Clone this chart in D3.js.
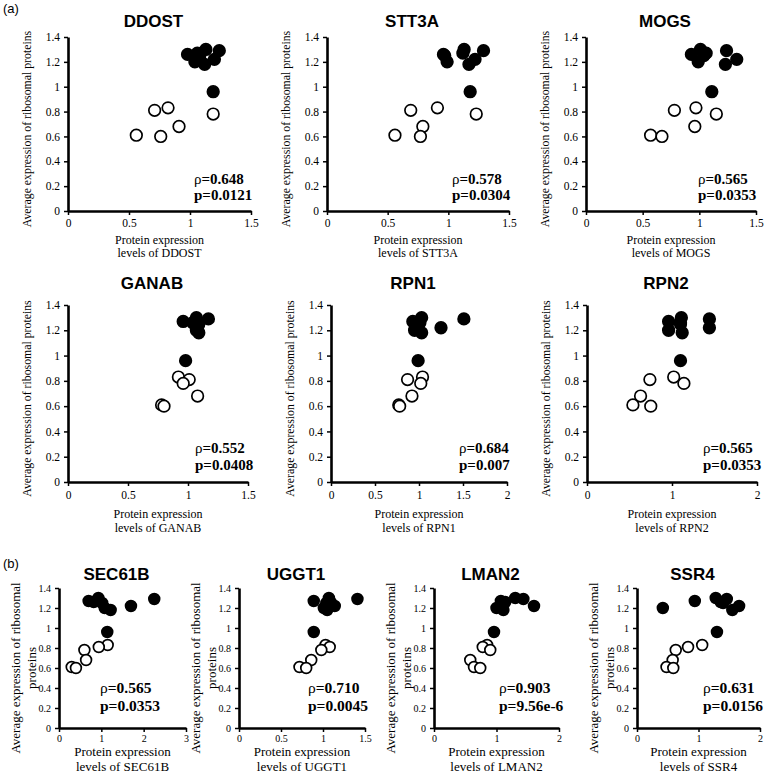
<!DOCTYPE html>
<html><head><meta charset="utf-8">
<script src="https://cdn.jsdelivr.net/npm/d3@7"></script>
<style>body{margin:0;background:#fff}svg{display:block}
.serif{font-family:"Liberation Serif","Times New Roman",Times,"Nimbus Roman","DejaVu Serif",serif}
.sans{font-family:"Liberation Sans",Arial,Helvetica,sans-serif}
</style>
</head><body><svg id="c" width="765" height="773"></svg>
<script>
// Average expression of ribosomal proteins per sample (shared y values)
const riboY = [1.30, 1.29, 1.27, 1.26, 1.25, 1.22, 1.20, 1.18, 0.96, 0.83, 0.81, 0.78, 0.68, 0.61, 0.60];
// 1 = filled (high ribosomal expression), 0 = open
const highGroup = [1, 1, 1, 1, 1, 1, 1, 1, 1, 0, 0, 0, 0, 0, 0];

const genes = ["DDOST", "STT3A", "MOGS", "GANAB", "RPN1", "RPN2", "SEC61B", "UGGT1", "LMAN2", "SSR4"];
const rhoLabels = ["0.648", "0.578", "0.565", "0.552", "0.684", "0.565", "0.565", "0.710", "0.903", "0.631"];
const pLabels = ["0.0121", "0.0304", "0.0353", "0.0408", "0.007", "0.0353", "0.0353", "0.0045", "9.56e-6", "0.0156"];
const xDomainMax = [1.5, 1.5, 1.5, 1.5, 2, 2, 3, 1.5, 2, 2];
const xTickValues = [
  [0, 0.5, 1, 1.5], [0, 0.5, 1, 1.5], [0, 0.5, 1, 1.5], [0, 0.5, 1, 1.5],
  [0, 0.5, 1, 1.5, 2], [0, 1, 2], [0, 1, 2, 3], [0, 0.5, 1, 1.5], [0, 1, 2], [0, 1, 2]
];
const yTickValues = [0, 0.2, 0.4, 0.6, 0.8, 1, 1.2, 1.4];

// Protein expression levels (x) per gene, same sample order as riboY
const ddostX  = [1.13, 1.24, 1.06, 0.98, 1.08, 1.20, 1.04, 1.12, 1.19, 0.82, 0.71, 1.19, 0.91, 0.56, 0.76];
const stt3aX  = [1.13, 1.29, 1.12, 0.96, 0.97, 1.22, 0.99, 1.17, 1.18, 0.91, 0.69, 1.23, 0.79, 0.56, 0.77];
const mogsX   = [1.01, 1.24, 1.06, 0.93, 1.04, 1.33, 0.99, 1.23, 1.11, 0.97, 0.78, 1.15, 0.96, 0.57, 0.67];
const ganabX  = [1.07, 1.17, 0.96, 1.04, 1.09, 1.08, 1.07, 1.09, 0.98, 0.92, 1.01, 0.96, 1.08, 0.78, 0.80];
const rpn1X   = [1.03, 1.51, 0.93, 1.01, 0.97, 1.25, 0.95, 1.03, 0.99, 1.04, 0.87, 1.02, 0.92, 0.77, 0.78];
const rpn2X   = [1.11, 1.44, 0.96, 1.10, 1.10, 1.44, 0.96, 1.12, 1.10, 1.02, 0.74, 1.14, 0.63, 0.54, 0.75];
const sec61bX = [0.93, 2.25, 0.70, 0.82, 1.02, 1.70, 1.08, 1.22, 1.14, 1.15, 0.94, 0.60, 0.64, 0.30, 0.40];
const uggt1X  = [1.07, 1.41, 0.89, 1.09, 1.04, 1.14, 1.01, 1.05, 0.89, 1.03, 1.08, 0.98, 0.86, 0.72, 0.80];
const lman2X  = [1.30, 1.43, 1.07, 1.14, 1.08, 1.60, 1.00, 1.11, 0.96, 0.85, 0.78, 0.90, 0.58, 0.64, 0.74];
const ssr4X   = [1.28, 1.46, 0.94, 1.36, 1.40, 1.66, 0.42, 1.55, 1.30, 1.06, 0.83, 0.63, 0.58, 0.48, 0.59];
const geneX = [ddostX, stt3aX, mogsX, ganabX, rpn1X, rpn2X, sec61bX, uggt1X, lman2X, ssr4X];

// ---------- layout (pixel positions) ----------
const rows = [
  {top: 37, bottom: 211, titleY: 27, tickFont: 11.5, labFont: 12, yLabFont: 11.8, r: 5.8, rhoDy: -27, pDy: -11, annFont: 15, xl1: 243.5, lh: 13.5, pad: 4},
  {top: 305, bottom: 482, titleY: 289, tickFont: 11.5, labFont: 12, yLabFont: 11.8, r: 5.8, rhoDy: -29, pDy: -12, annFont: 15, xl1: 518, lh: 14, pad: 5},
  {top: 588, bottom: 728, titleY: 580, tickFont: 10, labFont: 13, yLabFont: 13, r: 5.4, rhoDy: -35, pDy: -17, annFont: 15.5, xl1: 756, lh: 14.5, pad: 3}
];
const panels = [
  {row: 0, left: 68, right: 251, annX: 194},
  {row: 0, left: 327, right: 509, annX: 452},
  {row: 0, left: 586, right: 756, annX: 698},
  {row: 1, left: 68, right: 248, annX: 195},
  {row: 1, left: 331, right: 507, annX: 459},
  {row: 1, left: 587, right: 757, annX: 703},
  {row: 2, left: 59, right: 186, annX: 100},
  {row: 2, left: 239, right: 365, annX: 308},
  {row: 2, left: 434, right: 559, annX: 499},
  {row: 2, left: 637, right: 760, annX: 703}
];

const svg = d3.select("#c");

svg.append("text").attr("class", "sans").attr("x", 3).attr("y", 13).attr("font-size", 13).text("(a)");
svg.append("text").attr("class", "sans").attr("x", 3).attr("y", 568).attr("font-size", 13).text("(b)");

panels.forEach((p, i) => {
  const R = rows[p.row];
  const g = svg.append("g");
  const x = d3.scaleLinear().domain([0, xDomainMax[i]]).range([p.left, p.right]);
  const y = d3.scaleLinear().domain([0, 1.4]).range([R.bottom, R.top]);

  // title
  g.append("text").attr("class", "sans").attr("x", (p.left + p.right) / 2 - 6).attr("y", R.titleY)
    .attr("text-anchor", "middle").attr("font-weight", "bold")
    .attr("font-size", 17).text(genes[i]);

  // axes
  const yAx = g.append("g").attr("transform", `translate(${p.left},0)`)
    .call(d3.axisLeft(y).tickValues(yTickValues).tickSize(4).tickSizeOuter(0).tickPadding(4).tickFormat(d => String(d)));
  const xAx = g.append("g").attr("transform", `translate(0,${R.bottom})`)
    .call(d3.axisBottom(x).tickValues(xTickValues[i]).tickSize(4).tickSizeOuter(0).tickPadding(R.pad).tickFormat(d => String(d)));
  [yAx, xAx].forEach(a => {
    a.attr("font-family", null);
    a.select(".domain").attr("stroke", "#000").attr("stroke-width", 2.6);
    a.selectAll(".tick line").attr("stroke", "#000").attr("stroke-width", 1.5);
    a.selectAll(".tick text").attr("class", "serif").attr("font-size", R.tickFont).attr("fill", "#000");
  });

  // y-axis title
  const midY = (R.top + R.bottom) / 2;
  if (p.row < 2) {
    g.append("text").attr("class", "serif").attr("transform", `translate(${p.left - 41},${midY + 5}) rotate(-90)`)
      .attr("text-anchor", "middle").attr("dy", "0.35em")
      .attr("font-size", R.yLabFont).text("Average expression of ribosomal proteins");
  } else {
    g.append("text").attr("class", "serif").attr("transform", `translate(${p.left - 44},${midY + 10}) rotate(-90)`)
      .attr("text-anchor", "middle").attr("dy", "0.35em")
      .attr("font-size", R.yLabFont).text("Average expression of ribosomal");
    g.append("text").attr("class", "serif").attr("transform", `translate(${p.left - 28},${midY + 10}) rotate(-90)`)
      .attr("text-anchor", "middle").attr("dy", "0.35em")
      .attr("font-size", R.yLabFont).text("proteins");
  }

  // x-axis title
  const xc = (p.left + p.right) / 2;
  g.append("text").attr("class", "serif").attr("x", xc).attr("y", R.xl1).attr("text-anchor", "middle")
    .attr("font-size", R.labFont).text("Protein expression");
  g.append("text").attr("class", "serif").attr("x", xc).attr("y", R.xl1 + R.lh).attr("text-anchor", "middle")
    .attr("font-size", R.labFont).text("levels of " + genes[i]);

  // points
  const pts = riboY.map((v, k) => ({x: geneX[i][k], y: v, f: highGroup[k]}));
  g.selectAll("circle").data(pts).join("circle")
    .attr("cx", d => x(d.x)).attr("cy", d => y(d.y)).attr("r", R.r)
    .attr("fill", d => d.f ? "#000" : "#fff").attr("stroke", "#000").attr("stroke-width", 1.7);

  // annotations
  const t1 = g.append("text").attr("class", "serif").attr("x", p.annX).attr("y", R.bottom + R.rhoDy)
    .attr("font-size", R.annFont);
  t1.append("tspan").text("\u03c1");
  t1.append("tspan").attr("font-weight", "bold").text("=" + rhoLabels[i]);
  g.append("text").attr("class", "serif").attr("x", p.annX).attr("y", R.bottom + R.pDy)
    .attr("font-size", R.annFont).attr("font-weight", "bold")
    .text("p=" + pLabels[i]);
});
</script></body></html>
